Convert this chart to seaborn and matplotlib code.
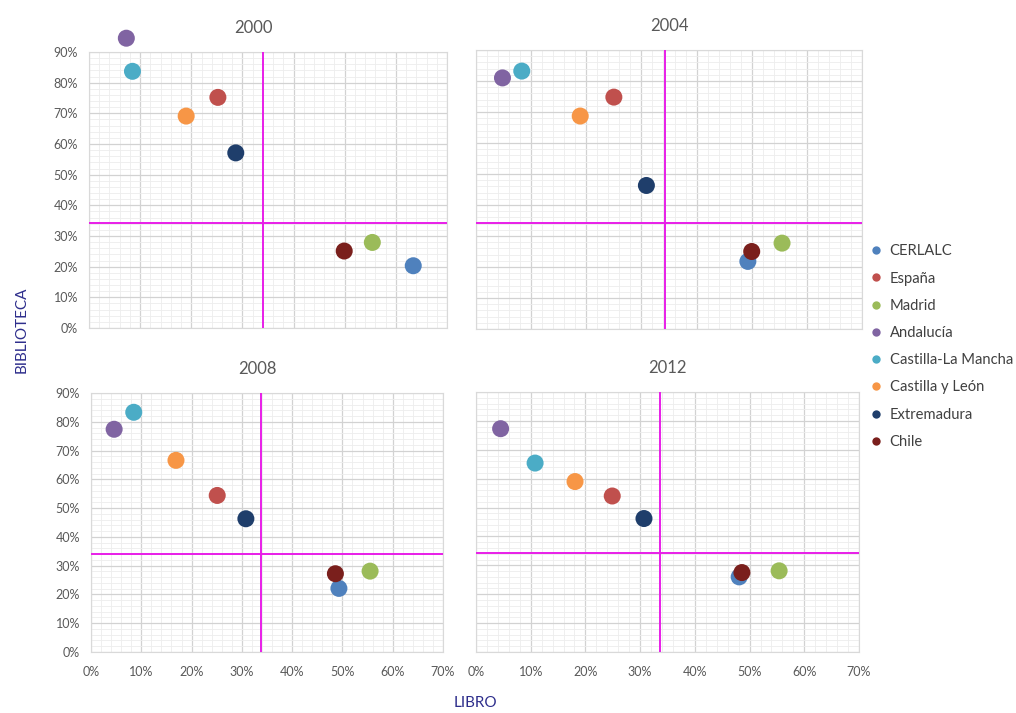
import matplotlib
matplotlib.use("Agg")
import matplotlib.pyplot as plt
from matplotlib.lines import Line2D
from matplotlib.ticker import MultipleLocator, FuncFormatter
import seaborn as sns
import pandas as pd

regions = ["CERLALC", "España", "Madrid", "Andalucía", "Castilla-La Mancha",
           "Castilla y León", "Extremadura", "Chile"]
colors = ["#4F81BD", "#C0504D", "#9BBB59", "#8064A2", "#4BACC6",
          "#F79646", "#1F3E6B", "#7A1F1C"]
years = ["2000", "2004", "2008", "2012"]

# LIBRO (x, %) per year, in region order
libro_2000 = [63.4, 25.2, 55.4, 7.3, 8.5, 19.0, 28.7, 49.9]
libro_2004 = [49.3, 25.0, 55.5, 4.8, 8.3, 18.9, 30.9, 50.0]
libro_2008 = [49.3, 25.1, 55.5, 4.6, 8.5, 16.9, 30.8, 48.6]
libro_2012 = [48.1, 24.9, 55.4, 4.5, 10.8, 18.1, 30.7, 48.6]
# BIBLIOTECA (y, %) per year, in region order
biblioteca_2000 = [20.3, 75.2, 27.9, 94.5, 83.7, 69.1, 57.1, 25.1]
biblioteca_2004 = [21.8, 74.8, 27.7, 81.0, 83.2, 68.7, 46.3, 25.0]
biblioteca_2008 = [22.1, 54.4, 28.1, 77.4, 83.3, 66.6, 46.3, 27.2]
biblioteca_2012 = [26.0, 54.0, 28.1, 77.3, 65.4, 59.0, 46.2, 27.5]
# reference lines (%)
ref_libro = [34.1, 34.2, 33.9, 33.7]
ref_biblioteca = [34.3, 34.3, 34.1, 34.3]

libro = [libro_2000, libro_2004, libro_2008, libro_2012]
biblioteca = [biblioteca_2000, biblioteca_2004, biblioteca_2008, biblioteca_2012]

rows = []
for yr, xs, ys in zip(years, libro, biblioteca):
    for r, xv, yv in zip(regions, xs, ys):
        rows.append({"year": yr, "region": r, "libro": xv, "biblioteca": yv})
df = pd.DataFrame(rows)

sns.set_style("white")
plt.rcParams["font.family"] = ["Lato", "DejaVu Sans"]

W, H = 1016, 713
fig = plt.figure(figsize=(W / 100, H / 100), dpi=100)

# axes boxes in pixels: left, top, right, bottom
boxes = [(89, 52, 447, 328), (476, 50, 862, 329),
         (91, 393, 443, 652), (476, 392, 859, 652)]
title_x = [0.458, 0.5, 0.474, 0.5]

pct = FuncFormatter(lambda v, p: f"{v:.0f}%")
tick_color = "#595959"

for i, (yr, box) in enumerate(zip(years, boxes)):
    l, t, r, b = box
    ax = fig.add_axes([l / W, 1 - b / H, (r - l) / W, (b - t) / H])
    sub = df[df["year"] == yr]
    sns.scatterplot(data=sub, x="libro", y="biblioteca", hue="region",
                    hue_order=regions, palette=colors, s=150, linewidth=0,
                    legend=False, ax=ax, zorder=4)
    for c in ax.collections:
        c.set_clip_on(False)
    ax.set_xlim(0, 70)
    ax.set_ylim(0, 90)
    ax.xaxis.set_major_locator(MultipleLocator(10))
    ax.yaxis.set_major_locator(MultipleLocator(10))
    ax.xaxis.set_minor_locator(MultipleLocator(2))
    ax.yaxis.set_minor_locator(MultipleLocator(2))
    ax.grid(which="major", color="#D2D2D2", linewidth=0.9)
    ax.grid(which="minor", color="#EDEDED", linewidth=0.6)
    ax.set_axisbelow(True)
    ax.axvline(ref_libro[i], color="#E81EE8", linewidth=1.4, zorder=3)
    ax.axhline(ref_biblioteca[i], color="#E81EE8", linewidth=1.4, zorder=3)
    for s in ax.spines.values():
        s.set_color("#D9D9D9")
        s.set_linewidth(0.8)
    ax.set_xlabel("")
    ax.set_ylabel("")
    ax.xaxis.set_major_formatter(pct)
    ax.yaxis.set_major_formatter(pct)
    ax.tick_params(which="minor", length=0)
    ax.tick_params(axis="both", which="major", labelsize=9, colors=tick_color)
    ax.tick_params(axis="y", length=0, pad=8)
    if i < 2:
        ax.tick_params(axis="x", length=0, labelbottom=False)
    else:
        ax.tick_params(axis="x", length=4, pad=6, color="#BFBFBF")
    if i % 2 == 1:
        ax.tick_params(axis="y", labelleft=False)
    ax.set_title(yr, x=title_x[i], pad=14, fontsize=12, color="#595959")

handles = [Line2D([0], [0], marker="o", linestyle="", markersize=6,
                  markerfacecolor=c, markeredgewidth=0) for c in colors]
fig.legend(handles, regions, loc="upper left",
           bbox_to_anchor=(855 / W, 1 - 231 / H), frameon=False,
           fontsize=10.6, labelspacing=0.9, handletextpad=0.45,
           labelcolor="#404040", handlelength=1.0)

fig.text(22 / W, 1 - 330 / H, "BIBLIOTECA", rotation=90, ha="center",
         va="center", fontsize=11, color="#2E2E8C")
fig.text(475 / W, 1 - 703 / H, "LIBRO", ha="center", va="center",
         fontsize=11, color="#2E2E8C")

fig.savefig("out.png", dpi=100)
